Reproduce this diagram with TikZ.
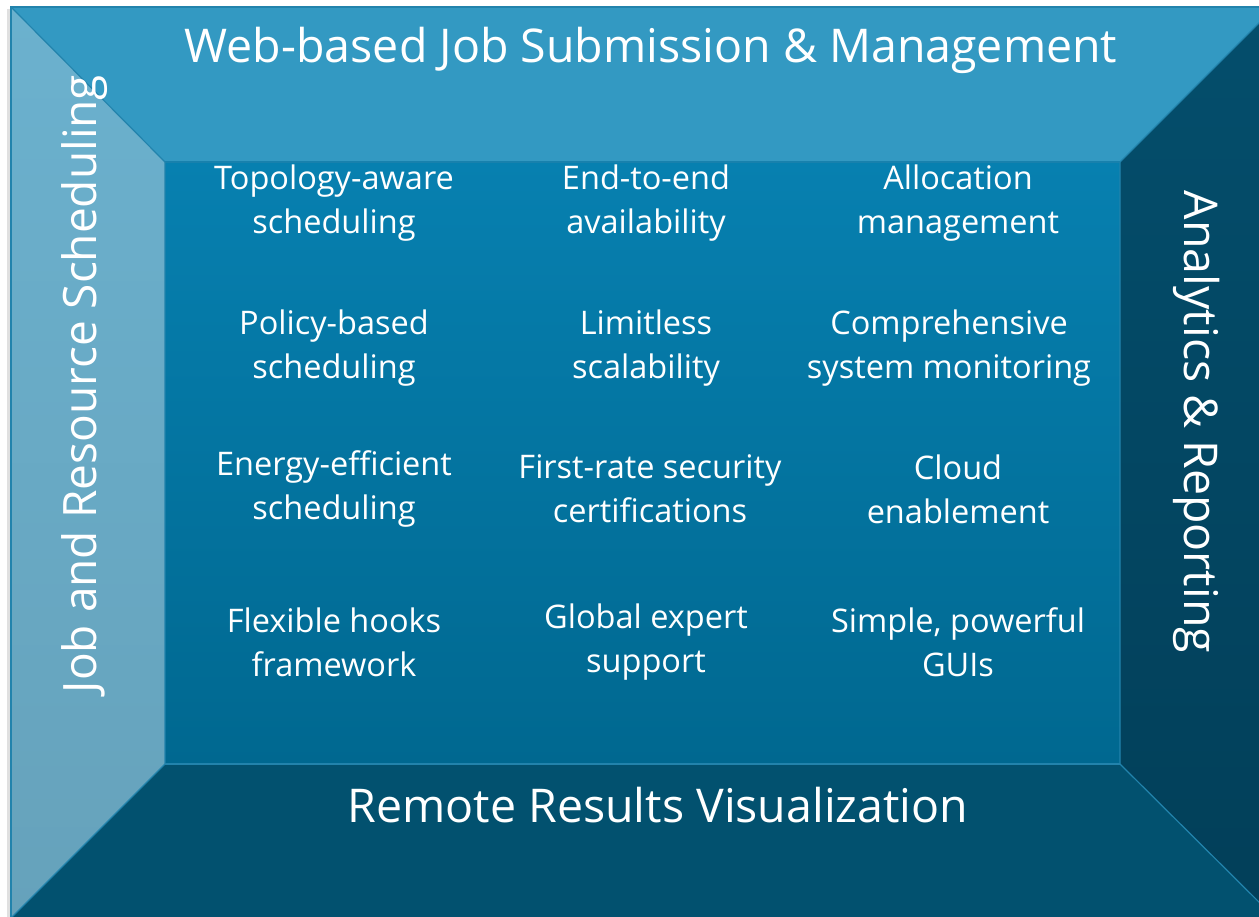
\documentclass[tikz,border=0pt]{standalone}
\usepackage{fontspec}
\setmainfont{Open Sans}
\definecolor{topc}{HTML}{3399C2}
\definecolor{lefttop}{HTML}{6BB1CE}
\definecolor{leftbot}{HTML}{66A2BB}
\definecolor{righttop}{HTML}{044E6C}
\definecolor{rightbot}{HTML}{023F59}
\definecolor{botc}{HTML}{02516F}
\definecolor{midtop}{HTML}{0780B0}
\definecolor{midbot}{HTML}{006890}
\definecolor{edgec}{HTML}{2283AC}
\tikzset{
  item/.style={text=white, align=center, font=\fontsize{32.5}{44}\selectfont},
  band/.style={text=white, font=\fontsize{46.5}{56}\selectfont},
  edge/.style={draw=edgec, line width=1.2pt, line join=round}
}
\begin{document}
\begin{tikzpicture}[x=1pt,y=-1pt]
\useasboundingbox (0,0) rectangle (1259,917);
\fill[white] (0,0) rectangle (1259,917);
\begin{scope}
\clip (0,0) rectangle (1259,917);
% shadow
\fill[black!12] (7,9) rectangle (11,917);
% top
\fill[topc] (11,7) -- (1275,7) -- (1120,162) -- (165,162) -- cycle;
% left
\shade[top color=lefttop, bottom color=leftbot] (11,7) -- (165,162) -- (165,764) -- (11,918) -- cycle;
% right
\shade[top color=righttop, bottom color=rightbot] (1275,7) -- (1275,918) -- (1120,764) -- (1120,162) -- cycle;
% bottom
\fill[botc] (11,918) -- (165,764) -- (1120,764) -- (1275,918) -- cycle;
% centre
\shade[top color=midtop, bottom color=midbot] (165,162) rectangle (1120,764);
% edges
\draw[edge] (11,7) -- (165,162) -- (1120,162) -- (1275,7);
\draw[edge] (165,162) -- (165,764) -- (11,918);
\draw[edge] (1120,162) -- (1120,764) -- (1275,918);
\draw[edge] (165,764) -- (1120,764);
\draw[draw=edgec, line width=2pt] (11,918) -- (11,7) -- (1275,7);
\end{scope}
% band labels
\node[band] (ttop) at (651,50) {Web-based Job Submission \& Management};
\node[band] (tbot) at (658,805) {Remote Results Visualization};
\node[band, font=\fontsize{46}{56}\selectfont, rotate=90] (tleft) at (85,384) {Job and Resource Scheduling};
\node[band, rotate=-90] (tright) at (1197,422) {Analytics \& Reporting};
% items
\node[item] (a1) at (334,203) {Topology-aware\\scheduling};
\node[item] (a2) at (646,203) {End-to-end\\availability};
\node[item] (a3) at (958,203) {Allocation\\management};
\node[item] (b1) at (334,348) {Policy-based\\scheduling};
\node[item] (b2) at (646,348) {Limitless\\scalability};
\node[item] (b3) at (949,348) {Comprehensive\\system monitoring};
\node[item] (c1) at (334,489) {Energy-efficient\\scheduling};
\node[item] (c2) at (650,489) {First-rate security\\certifications};
\node[item] (c3) at (958,489) {Cloud\\enablement};
\node[item] (d1) at (334,642) {Flexible hooks\\framework};
\node[item] (d2) at (646,642) {Global expert\\support};
\node[item] (d3) at (958,642) {Simple, powerful\\GUIs};
\end{tikzpicture}
\end{document}
